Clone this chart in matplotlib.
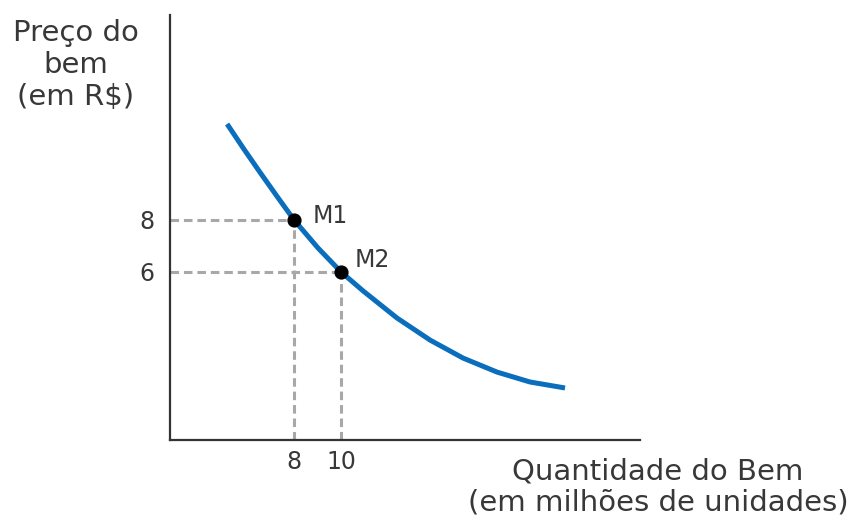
import matplotlib
matplotlib.use("Agg")
import matplotlib.pyplot as plt

# Demand curve points (quantity, price)
curve_q = [5.15, 5.83, 6.55, 7.28, 8.0, 9.02, 10.0, 10.94, 12.38, 13.79, 15.19, 16.64, 18.04, 19.53]
curve_p = [11.69, 10.77, 9.83, 8.90, 8.0, 6.92, 6.0, 5.27, 4.23, 3.38, 2.69, 2.15, 1.77, 1.54]

point_names = ["M1", "M2"]
point_q = [8, 10]
point_p = [8, 6]

x_ticks = [8, 10]
y_ticks = [8, 6]

# label offsets (points) for M1, M2
label_offsets = [(13.7, -2.2), (9.4, 3.6)]

fig = plt.figure(figsize=(8.48, 5.21), dpi=100)
ax = fig.add_axes([170/848, 81/521, 470/848, 425/521])
ax.set_xlim(2.72, 22.72)
ax.set_ylim(-0.46, 15.88)

txt = "#383838"
for s in ["top", "right"]:
    ax.spines[s].set_visible(False)
for s in ["left", "bottom"]:
    ax.spines[s].set_color("#333333")
    ax.spines[s].set_linewidth(1.6)

ax.set_xticks(x_ticks)
ax.set_yticks(y_ticks)
ax.tick_params(length=0, labelsize=17, colors=txt)
ax.tick_params(axis="x", pad=7)
ax.tick_params(axis="y", pad=11)

xmin, ymin = ax.get_xlim()[0], ax.get_ylim()[0]
dash = (0, (2.8, 1.6))
for q, p in zip(point_q, point_p):
    ax.plot([xmin, q], [p, p], ls=dash, color="#a8a8a8", lw=2.2, zorder=1)
    ax.plot([q, q], [ymin, p], ls=dash, color="#a8a8a8", lw=2.2, zorder=1)

ax.plot(curve_q, curve_p, color="#0a6ebd", lw=3.6, solid_capstyle="butt",
        solid_joinstyle="round", zorder=2)
ax.scatter(point_q, point_p, s=85, color="black", zorder=3)
for n, q, p, off in zip(point_names, point_q, point_p, label_offsets):
    ax.annotate(n, (q, p), xytext=off, textcoords="offset points",
                fontsize=17, color=txt, va="baseline", ha="left")

fig.text(76/848, 1 - 65/521, "Preço do\nbem\n(em R$)", ha="center", va="center",
         fontsize=21, color=txt, linespacing=1.18)
fig.text(658/848, 1 - 487/521, "Quantidade do Bem\n(em milhões de unidades)", ha="center",
         va="center", fontsize=21, color=txt, linespacing=1.18)

fig.savefig("out.png", dpi=100)
